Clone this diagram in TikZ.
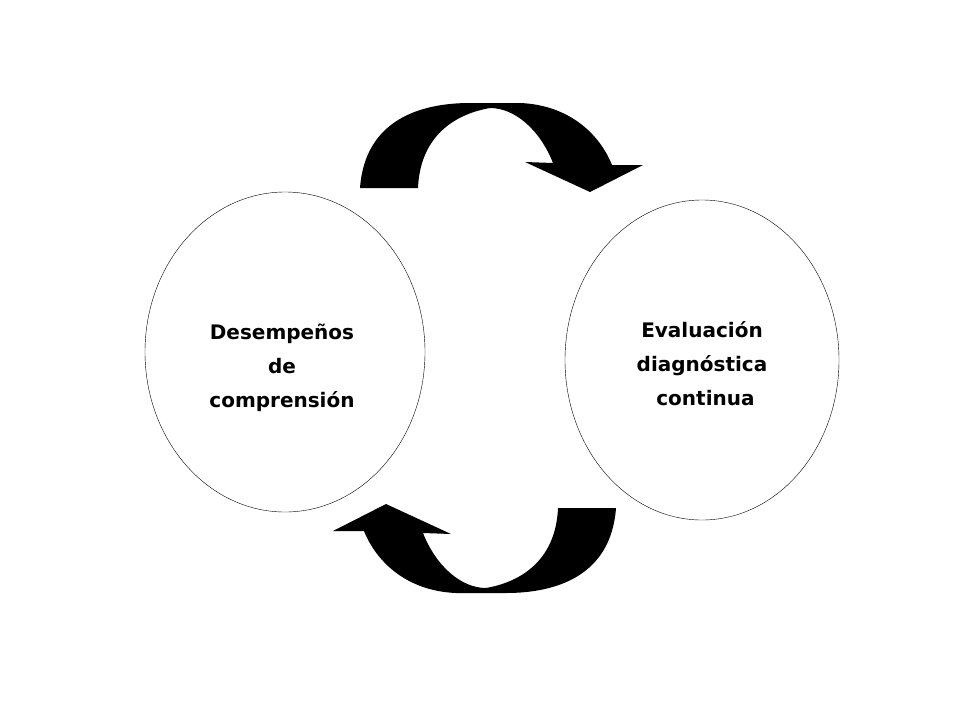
\documentclass[tikz,border=0pt]{standalone}
\usepackage{fontspec}
\setmainfont{DejaVu Sans}
\tikzset{circ/.style={draw, ellipse, thin},
lbl/.style={align=center, font=\bfseries\fontsize{20}{40}\selectfont},
%curved block arrow in picture units
bigarrow/.style={fill=black}}
\begin{document}
\begin{tikzpicture}[x=1pt,y=-1pt]
\useasboundingbox (0,0) rectangle (960,720);

\draw[thin] (285,352) ellipse (140 and 160);
\draw[thin] (702,360) ellipse (137 and 160);

\node[lbl] (perf) at (282,368) {Desempeños\\[-6pt]de\\[-6pt]comprensión};
\node[lbl] (eval) at (702,364) {Evaluación\\[-6pt]diagnóstica\\[-6pt]\ continua};

\foreach \r in {0,180}
  \fill[bigarrow, rotate around={\r:(488,348)}]
    (360,188) .. controls (365,120) and (420,103) .. (470,103) -- (520,103)
    .. controls (570,105) and (600,135) .. (612,165) -- (643,165) -- (590,192)
    -- (525,162) -- (553,163) .. controls (540,130) and (515,108) .. (490,108)
    .. controls (450,115) and (420,140) .. (418,188) -- cycle;

\end{tikzpicture}
\end{document}
